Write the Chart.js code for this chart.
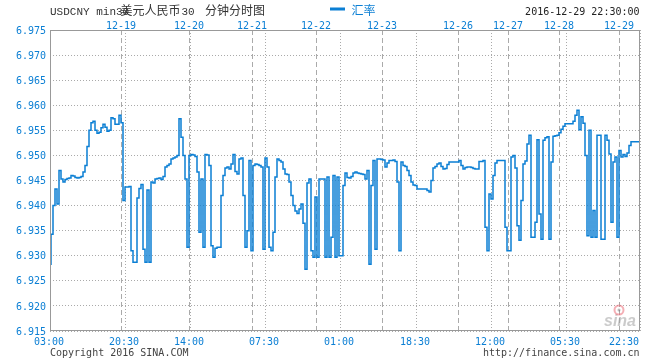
<!DOCTYPE html>
<html><head><meta charset="utf-8">
<script src="https://cdn.jsdelivr.net/npm/chart.js"></script>
<style>html,body{margin:0;padding:0;background:#fff}canvas{display:block}</style>
</head><body>
<canvas id="c" width="660" height="360"></canvas>
<script>
// USD/CNY sampled rate, 2016-12-19 .. 2016-12-29
const rateValues = [
6.9283,6.9343,6.9400,6.9433,6.9403,6.9470,6.9453,6.9447,6.9452,6.9454,
6.9455,6.9460,6.9459,6.9456,6.9455,6.9456,6.9458,6.9467,6.9480,6.9518,
6.9550,6.9565,6.9568,6.9550,6.9544,6.9546,6.9555,6.9562,6.9556,6.9548,
6.9550,6.9575,6.9573,6.9562,6.9562,6.9580,6.9565,6.9410,6.9437,6.9437,
6.9438,6.9310,6.9287,6.9287,6.9415,6.9434,6.9442,6.9313,6.9287,6.9431,
6.9287,6.9447,6.9445,6.9453,6.9454,6.9455,6.9452,6.9458,6.9477,6.9480,
6.9483,6.9493,6.9495,6.9497,6.9500,6.9573,6.9536,6.9500,6.9453,6.9317,
6.9500,6.9502,6.9501,6.9498,6.9467,6.9347,6.9453,6.9317,6.9502,6.9501,
6.9480,6.9320,6.9297,6.9315,6.9317,6.9317,6.9420,6.9460,6.9475,6.9477,
6.9473,6.9483,6.9502,6.9468,6.9463,6.9493,6.9495,6.9420,6.9317,6.9350,
6.9490,6.9310,6.9480,6.9483,6.9482,6.9480,6.9477,6.9313,6.9495,6.9477,
6.9317,6.9310,6.9347,6.9457,6.9493,6.9490,6.9487,6.9473,6.9463,6.9462,
6.9447,6.9420,6.9400,6.9389,6.9384,6.9393,6.9403,6.9365,6.9273,6.9445,
6.9453,6.9310,6.9297,6.9417,6.9297,6.9453,6.9453,6.9453,6.9297,6.9457,
6.9297,6.9337,6.9460,6.9297,6.9457,6.9300,6.9300,6.9440,6.9465,6.9456,
6.9455,6.9458,6.9465,6.9467,6.9465,6.9464,6.9463,6.9462,6.9453,6.9470,
6.9283,6.9440,6.9490,6.9313,6.9493,6.9493,6.9492,6.9491,6.9477,6.9485,
6.9490,6.9490,6.9491,6.9488,6.9447,6.9310,6.9487,6.9480,6.9478,6.9470,
6.9460,6.9447,6.9441,6.9440,6.9433,6.9433,6.9433,6.9433,6.9433,6.9430,
6.9427,6.9450,6.9475,6.9478,6.9483,6.9485,6.9478,6.9473,6.9474,6.9482,
6.9487,6.9487,6.9487,6.9487,6.9487,6.9490,6.9480,6.9473,6.9476,6.9477,
6.9477,6.9476,6.9474,6.9473,6.9473,6.9488,6.9488,6.9490,6.9357,6.9310,
6.9423,6.9413,6.9460,6.9485,6.9490,6.9490,6.9490,6.9490,6.9357,6.9310,
6.9310,6.9497,6.9500,6.9475,6.9360,6.9331,6.9410,6.9483,6.9489,6.9523,
6.9540,6.9337,6.9337,6.9367,6.9531,6.9383,6.9333,6.9530,6.9535,6.9537,
6.9333,6.9487,6.9538,6.9539,6.9540,6.9545,6.9552,6.9558,6.9563,6.9563,
6.9563,6.9563,6.9568,6.9580,6.9590,6.9551,6.9577,6.9564,6.9500,6.9340,
6.9550,6.9337,6.9390,6.9337,6.9540,6.9540,6.9333,6.9333,6.9540,6.9530,
6.9503,6.9367,6.9487,6.9497,6.9337,6.9510,6.9497,6.9502,6.9498,6.9505,
6.9520,6.9527,6.9527,6.9527,6.9527,6.9527
];
const timeLabels  = ['03:00','20:30','14:00','07:30','01:00','18:30','12:00','05:30','22:30'];
const timeTickIdx = [0, 37.5, 70, 107.5, 145, 183, 220.5, 258, 295];
const dateLabels  = ['12-19','12-20','12-21','12-22','12-23','12-26','12-27','12-28','12-29'];
const dateTickIdx = [35.5, 69.5, 101, 133, 166, 204, 229, 254.5, 284.5];
const yTickLabels = ['6.915','6.920','6.925','6.930','6.935','6.940','6.945','6.950','6.955','6.960','6.965','6.970','6.975'];
const yMin = 6.915, yMax = 6.975;

const BLUE = '#0b7fd4';
const MONO = '"DejaVu Sans Mono", "Liberation Mono", monospace';
const CJK = '"Noto Sans CJK SC", sans-serif';

const decoPlugin = {
  id: 'deco',
  beforeDatasetsDraw(chart) {
    const ctx = chart.ctx;
    ctx.save();
    ctx.font = 'italic bold 16px "Liberation Sans", sans-serif';
    ctx.fillStyle = 'rgba(160,160,160,0.55)';
    ctx.textBaseline = 'alphabetic';
    ctx.fillText('sina', 604, 326);
    ctx.strokeStyle = 'rgba(235,110,120,0.55)';
    ctx.lineWidth = 2;
    ctx.beginPath(); ctx.arc(619, 310, 4.5, 0, Math.PI * 2); ctx.stroke();
    ctx.fillStyle = 'rgba(120,120,120,0.5)';
    ctx.beginPath(); ctx.arc(619, 310, 1.5, 0, Math.PI * 2); ctx.fill();
    ctx.restore();
  },
  afterDraw(chart) {
    const ctx = chart.ctx, a = chart.chartArea;
    const xb = chart.scales.x, xt = chart.scales.xTop;
    ctx.save();
    ctx.strokeStyle = '#999';
    ctx.lineWidth = 1;
    ctx.strokeRect(a.left + 0.5, a.top + 0.5, a.right - a.left - 1, a.bottom - a.top - 1);

    ctx.font = '10px ' + MONO;
    ctx.fillStyle = BLUE;
    ctx.textBaseline = 'alphabetic';
    timeLabels.forEach((t, i) => {
      const px = xb.getPixelForValue(timeTickIdx[i]);
      const w = ctx.measureText(t).width;
      if (px + w / 2 > a.right) { ctx.textAlign = 'right'; ctx.fillText(t, a.right - 1, 345); }
      else { ctx.textAlign = 'center'; ctx.fillText(t, px - 1, 345); }
    });
    ctx.textAlign = 'center';
    dateLabels.forEach((t, i) => {
      ctx.fillText(t, xt.getPixelForValue(dateTickIdx[i]), 29);
    });

    ctx.textAlign = 'left';
    ctx.fillStyle = '#333';
    ctx.font = '11px "Liberation Mono", monospace';
    ctx.fillText('USDCNY min30', 50, 15);
    ctx.font = '12px ' + CJK;
    ctx.fillText('美元人民币', 120.5, 15);
    ctx.font = '11px "Liberation Mono", monospace';
    ctx.fillText('30', 181.5, 15);
    ctx.font = '12px ' + CJK;
    ctx.fillText('分钟分时图', 205, 15);

    ctx.fillStyle = BLUE;
    ctx.fillRect(330, 7.5, 15, 3);
    ctx.font = '12px ' + CJK;
    ctx.fillText('汇率', 351.5, 15);

    ctx.font = '10px ' + MONO;
    ctx.fillStyle = '#222';
    ctx.textAlign = 'right';
    ctx.fillText('2016-12-29 22:30:00', 639.5, 15);

    ctx.fillStyle = '#444';
    ctx.textAlign = 'left';
    ctx.fillText('Copyright 2016 SINA.COM', 50, 356);
    ctx.textAlign = 'right';
    ctx.fillText('http://finance.sina.com.cn', 639.5, 356);
    ctx.restore();
  }
};

new Chart(document.getElementById('c'), {
  type: 'line',
  data: {
    datasets: [{
      data: rateValues.map((v, i) => ({ x: i, y: v })),
      borderColor: BLUE,
      borderWidth: 1.5,
      pointRadius: 0,
      stepped: 'middle',
      fill: false
    }]
  },
  options: {
    responsive: false,
    animation: false,
    devicePixelRatio: 1,
    layout: { padding: { left: 0, right: 20, top: 0, bottom: 0 } },
    plugins: { legend: { display: false }, tooltip: { enabled: false } },
    scales: {
      x: {
        type: 'linear', position: 'bottom', min: 0, max: rateValues.length - 1,
        afterBuildTicks: s => { s.ticks = timeTickIdx.map(v => ({ value: v })); },
        afterFit: s => { s.height = 29; },
        ticks: { display: false },
        grid: { color: '#aaa', drawTicks: false, lineWidth: 1 },
        border: { display: false, dash: [1, 2] }
      },
      xTop: {
        type: 'linear', position: 'top', min: 0, max: rateValues.length - 1,
        afterBuildTicks: s => { s.ticks = dateTickIdx.map(v => ({ value: v })); },
        afterFit: s => { s.height = 30; },
        ticks: { display: false },
        grid: { color: '#aaa', drawTicks: false, lineWidth: 1 },
        border: { display: false, dash: [5, 3] }
      },
      y: {
        type: 'linear', position: 'left', min: yMin, max: yMax,
        afterBuildTicks: s => { s.ticks = yTickLabels.map(t => ({ value: parseFloat(t) })); },
        afterFit: s => { s.width = 50; },
        ticks: {
          color: BLUE, padding: 4, labelOffset: 1,
          font: { family: MONO, size: 10 },
          callback: (v, i) => yTickLabels[i]
        },
        grid: { color: '#aaa', drawTicks: false, lineWidth: 1 },
        border: { display: false, dash: [1, 2] }
      }
    }
  },
  plugins: [decoPlugin]
});
</script>
</body></html>
